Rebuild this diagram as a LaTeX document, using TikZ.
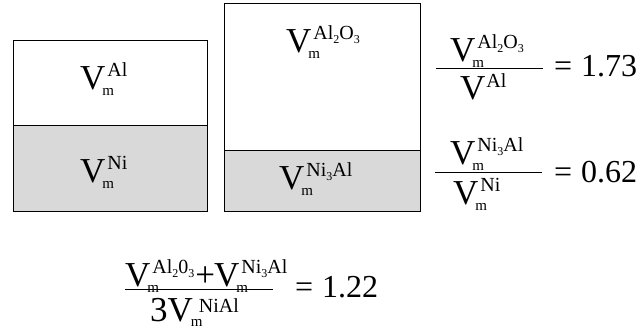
\documentclass[tikz,border=0pt]{standalone}
\usepackage{fontspec}
\setmainfont{Liberation Serif}
\newcommand{\bigsz}{\fontsize{35}{35}\selectfont}
\newcommand{\supsz}{\fontsize{20}{20}\selectfont}
\newcommand{\subsz}{\fontsize{15}{15}\selectfont}
\newcommand{\tinysz}{\fontsize{12}{12}\selectfont}
\newcommand{\eqsz}{\fontsize{32}{32}\selectfont}
% V with subscript m and superscript
\newcommand{\VmX}[1]{V\rlap{\kern-3pt\raisebox{-6pt}{\subsz m}}\kern2pt\raisebox{13pt}{\supsz #1}}
\newcommand{\VX}[1]{V\kern1pt\raisebox{12pt}{\supsz #1}}
\newcommand{\lowsub}[1]{\raisebox{-4pt}{\tinysz #1}}
\begin{document}
\begin{tikzpicture}[x=1pt,y=1pt,
  boxline/.style={draw=black,line width=1pt},
  lbl/.style={anchor=base west,inner sep=0pt,font=\bigsz},
  eqlbl/.style={anchor=base west,inner sep=0pt,font=\eqsz},
  fracline/.style={draw=black,line width=1pt}]
\useasboundingbox (0,0) rectangle (641,331);
% box 1
\fill[gray!30] (13,119) rectangle (207,205);
\draw[boxline] (13,119) rectangle (207,290);
\draw[boxline] (13,205) -- (207,205);
% box 2
\fill[gray!30] (224,119) rectangle (420,180);
\draw[boxline] (224,119) rectangle (420,327);
\draw[boxline] (224,180) -- (420,180);
% labels in boxes
\node[lbl] (al) at (80,241) {\VmX{Al}};
\node[lbl] (ni) at (80,148) {\VmX{Ni}};
\node[lbl] (alo) at (286,278) {\VmX{Al\lowsub{2}O\lowsub{3}}};
\node[lbl] (nial) at (279,141) {\VmX{Ni\lowsub{3}Al}};
% fraction 1
\node[lbl] (f1n) at (450,269) {\VmX{Al\lowsub{2}O\lowsub{3}}};
\coordinate (f1a) at (436,262);
\coordinate (f1b) at (543,262);
\draw[fracline] (f1a) -- (f1b);
\node[lbl] (f1d) at (460,231) {\VX{Al}};
\node[eqlbl] (f1e) at (554,254) {=\kern9pt1.73};
% fraction 2
\node[lbl] (f2n) at (450,166) {\VmX{Ni\lowsub{3}Al}};
\coordinate (f2a) at (435,158);
\coordinate (f2b) at (542,158);
\draw[fracline] (f2a) -- (f2b);
\node[lbl] (f2d) at (453,126) {\VmX{Ni}};
\node[eqlbl] (f2e) at (554,148) {=\kern9pt0.62};
% bottom fraction
\node[lbl] (bn) at (125,44) {\VmX{Al\lowsub{2}0\lowsub{3}}\kern1pt+\kern-1pt\VmX{Ni\lowsub{3}Al}};
\coordinate (ba) at (125,41);
\coordinate (bb) at (273,41);
\draw[fracline] (ba) -- (bb);
\node[lbl] (bd) at (150,9) {3V\rlap{\kern-2pt\raisebox{-5pt}{\subsz m}}\kern6pt\raisebox{9pt}{\supsz NiAl}};
\node[eqlbl] (be) at (295,33) {=\kern9pt1.22};
\end{tikzpicture}
\end{document}
